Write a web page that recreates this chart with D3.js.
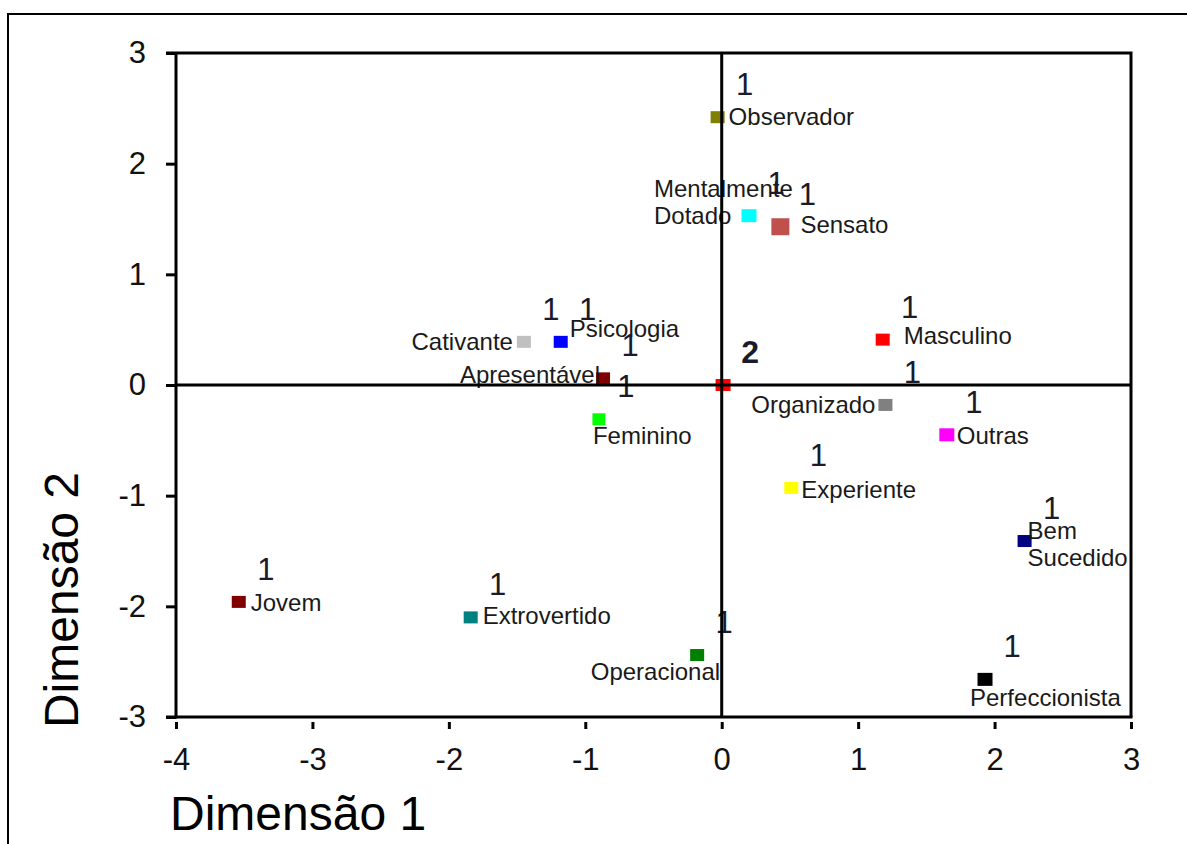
<!DOCTYPE html>
<html>
<head>
<meta charset="utf-8">
<script src="https://cdn.jsdelivr.net/npm/d3@7"></script>
<style>
  html, body { margin: 0; padding: 0; background: #fff; }
  svg { display: block; font-family: "Liberation Sans", Arial, sans-serif; }
</style>
</head>
<body>
<svg id="chart" width="1187" height="844"></svg>
<script>
// ---------------- data ----------------
const categories = ["Observador", "Mentalmente\nDotado", "Sensato", "Cativante", "Psicologia",
  "Apresentável", "Feminino", "", "Masculino", "Organizado", "Outras", "Experiente",
  "Bem\nSucedido", "Jovem", "Extrovertido", "Operacional", "Perfeccionista"];
const dim1 = [-0.03, 0.20, 0.43, -1.45, -1.18, -0.87, -0.90, 0.01, 1.18, 1.20, 1.65, 0.51, 2.22, -3.54, -1.84, -0.18, 1.93];
const dim2 = [2.42, 1.53, 1.43, 0.39, 0.39, 0.06, -0.31, 0.00, 0.41, -0.18, -0.45, -0.93, -1.41, -1.96, -2.10, -2.44, -2.66];
const clusters = [1, 1, 1, 1, 1, 1, 1, 2, 1, 1, 1, 1, 1, 1, 1, 1, 1];
const xTicks = [-4, -3, -2, -1, 0, 1, 2, 3];
const yTicks = [-3, -2, -1, 0, 1, 2, 3];
const xTitle = "Dimensão 1";
const yTitle = "Dimensão 2";

// ---------------- styles / layout ----------------
const colors = ["#808000", "#00FFFF", "#C0504D", "#C0C0C0", "#0000FF", "#800000", "#00FF00", "#FF0000",
  "#FF0000", "#808080", "#FF00FF", "#FFFF00", "#000080", "#800000", "#008080", "#008000", "#000000"];
const sizes = [[14,12],[15,13],[18,17],[14,12],[14,12],[14,12],[13,12],[15,12],[14,12],[14,12],[15,13],[14,12],[14,12],[14,12],[14,12],[14,12],[15,13]];
// label placement: [anchor, dx, dy of first baseline]
const labelPlace = [["start",11,8],["start",-95,-19],["start",20,6],["end",-11,8],["start",9,-5],
  ["end",-3,5],["start",-6,25],["start",0,0],["start",21,4],["end",-10,8],["start",10,9],
  ["start",10,10],["start",3,-2],["start",12,9],["start",12,7],["end",23,25],["start",-15,27]];

const svg = d3.select("#chart");
const pL = 176, pR = 1131, pT = 53, pB = 717;
const x = d3.scaleLinear().domain([-4, 3]).range([pL, pR]);
const y = d3.scaleLinear().domain([-3, 3]).range([pB, pT]);
const fmt = d => String(d);

// outer frame
svg.append("rect").attr("x", 8).attr("y", 14).attr("width", 1300).attr("height", 1000)
  .attr("fill", "none").attr("stroke", "#000").attr("stroke-width", 2);

// plot box (top & right)
svg.append("path")
  .attr("d", `M${pL - 10},${pT} L${pR},${pT} L${pR},${pB}`)
  .attr("fill", "none").attr("stroke", "#000").attr("stroke-width", 3);

// y axis
const yAxis = d3.axisLeft(y).tickValues(yTicks).tickSize(10).tickPadding(20).tickFormat(fmt);
const gy = svg.append("g").attr("transform", `translate(${pL},0)`).call(yAxis);
gy.select(".domain").attr("stroke-width", 3).attr("d", `M0,${pT}V${pB + 1.5}`);
gy.selectAll(".tick line").attr("stroke-width", 3);
gy.selectAll(".tick text").attr("font-size", 31).attr("fill", "#111").attr("font-family", "Liberation Sans, Arial, sans-serif");

// x axis
const xAxis = d3.axisBottom(x).tickValues(xTicks).tickSize(0).tickPadding(31).tickFormat(fmt);
const gx = svg.append("g").attr("transform", `translate(0,${pB})`).call(xAxis);
gx.select(".domain").attr("stroke-width", 3).attr("d", `M${pL - 10},0H${pR + 1.5}`);
gx.selectAll(".tick").append("line").attr("y1", 5).attr("y2", 12).attr("stroke", "#000").attr("stroke-width", 3);
gx.selectAll(".tick text").attr("font-size", 31).attr("fill", "#111").attr("font-family", "Liberation Sans, Arial, sans-serif").attr("dy", "0.71em");

// points
const pts = categories.map((c, i) => ({ name: c, d1: dim1[i], d2: dim2[i], cl: clusters[i], col: colors[i], sz: sizes[i], lp: labelPlace[i] }));
svg.append("g").selectAll("rect").data(pts).join("rect")
  .attr("x", d => x(d.d1) - d.sz[0] / 2)
  .attr("y", d => y(d.d2) - d.sz[1] / 2)
  .attr("width", d => d.sz[0]).attr("height", d => d.sz[1])
  .attr("fill", d => d.col);

// category labels
const lbl = svg.append("g").selectAll("text").data(pts.filter(d => d.name)).join("text")
  .attr("x", d => x(d.d1) + d.lp[1])
  .attr("y", d => y(d.d2) + d.lp[2])
  .attr("text-anchor", d => d.lp[0])
  .attr("font-size", 24).attr("fill", "#1a1a1a");
lbl.each(function(d) {
  const lines = d.name.split("\n");
  d3.select(this).selectAll("tspan").data(lines).join("tspan")
    .attr("x", x(d.d1) + d.lp[1])
    .attr("dy", (l, i) => i === 0 ? 0 : 27)
    .text(l => l);
});

// cluster numbers
svg.append("g").selectAll("text").data(pts).join("text")
  .attr("x", d => x(d.d1) + 27)
  .attr("y", d => y(d.d2) - 33 + 11)
  .attr("text-anchor", "middle")
  .attr("font-size", d => d.cl === 2 ? 32 : 31)
  .attr("font-weight", d => d.cl === 2 ? "bold" : "normal")
  .attr("fill", "#1a1a2a")
  .text(d => d.cl);

// zero lines
svg.append("line").attr("x1", pL).attr("x2", pR).attr("y1", y(0)).attr("y2", y(0))
  .attr("stroke", "#000").attr("stroke-width", 3);
svg.append("line").attr("x1", x(0)).attr("x2", x(0)).attr("y1", pT).attr("y2", pB)
  .attr("stroke", "#000").attr("stroke-width", 3);

// axis titles
svg.append("text").attr("x", 170).attr("y", 830).attr("font-size", 48).attr("fill", "#000").text(xTitle);
svg.append("text").attr("transform", "translate(78,600) rotate(-90)").attr("text-anchor", "middle")
  .attr("font-size", 48).attr("fill", "#000").text(yTitle);
</script>
</body>
</html>
